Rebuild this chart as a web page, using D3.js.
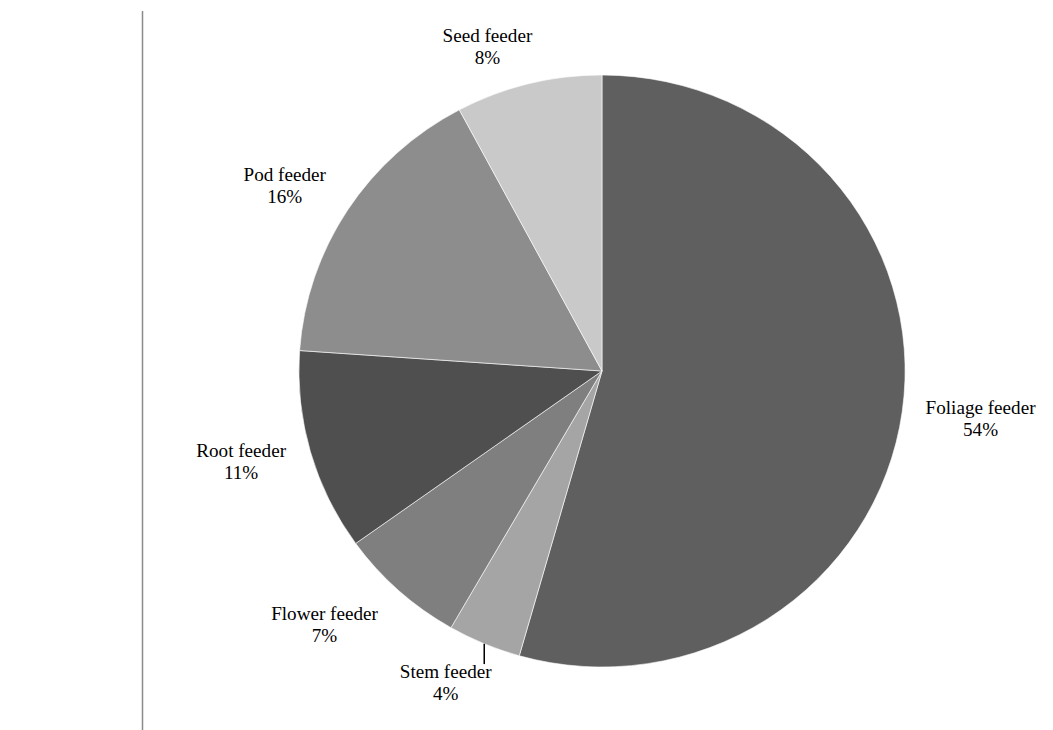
<!DOCTYPE html>
<html>
<head>
<meta charset="utf-8">
<script src="https://cdn.jsdelivr.net/npm/d3@7"></script>
<style>
	html, body { margin: 0; padding: 0; background: #fff; }
	svg { display: block; }
	.label { font-family: "Liberation Serif", "Times New Roman", serif; font-size: 18.7px; fill: #000; }
</style>
</head>
<body>
<svg id="chart" width="1053" height="730"></svg>
<script>
// feeding guild shares (%), clockwise from 12 o'clock
var categories = ['Foliage feeder', 'Stem feeder', 'Flower feeder', 'Root feeder', 'Pod feeder', 'Seed feeder'];
var shares = [54.4, 3.9, 6.8, 11.0, 16.1, 7.8];

var sliceColors = ['#5f5f5f', '#a5a5a5', '#7f7f7f', '#4f4f4f', '#8d8d8d', '#c9c9c9'];
// hand placement of the data labels, like they were dragged in the original
var labelNudge = [[3, -2], [-16, -11], [-26, -15], [-4, -6], [-8, 12], [-28, 13]];
var leaderFor = ['Stem feeder'];

var width = 1053,
	height = 730,
	cx = 602,
	cy = 371,
	radius = 296,
	stretchX = 1.024,
	pad = 18,
	lineH = 22;

var svg = d3.select('#chart');

// thin rule on the left of the page
svg.append('line')
	.attr('x1', 142.5).attr('x2', 142.5)
	.attr('y1', 11).attr('y2', height)
	.style('stroke', '#8a8a8a')
	.style('stroke-width', 1.5);

var pie = d3.pie()
	.sort(null)
	.value(function (d) { return d; });

var arc = d3.arc()
	.innerRadius(0)
	.outerRadius(radius);

var arcs = pie(shares);

var g = svg.append('g')
	.attr('transform', 'translate(' + [cx, cy] + ') scale(' + stretchX + ',1)');

g.selectAll('path.slice')
	.data(arcs)
	.enter().append('path')
		.classed('slice', true)
		.attr('d', arc)
		.style('fill', function (d, i) { return sliceColors[i]; })
		.style('stroke', '#ffffff')
		.style('stroke-width', 0.6);

var labels = g.selectAll('g.lbl')
	.data(arcs)
	.enter().append('g')
		.classed('lbl', true);

labels.each(function (d, i) {
	var lbl = d3.select(this),
		name = categories[i],
		mid = (d.startAngle + d.endAngle) / 2,
		s = Math.sin(mid),
		c = Math.cos(mid),
		t1, t2, w, dist, x, y;

	t1 = lbl.append('text')
		.classed('label', true)
		.attr('text-anchor', 'middle')
		.text(name);
	t2 = lbl.append('text')
		.classed('label', true)
		.attr('text-anchor', 'middle')
		.text(Math.round(d.data) + '%');

	w = Math.max(t1.node().getComputedTextLength(), t2.node().getComputedTextLength());
	dist = radius + pad + Math.abs(s) * w / 2 + Math.abs(c) * lineH;

	x = dist * s + labelNudge[i][0];
	y = -dist * c + labelNudge[i][1];

	t1.attr('x', x).attr('y', y - 6.5);
	t2.attr('x', x).attr('y', y - 6.5 + lineH);

	if (leaderFor.indexOf(name) > -1) {
		var ex = radius * s,
			ey = -radius * c;
		lbl.append('line')
			.attr('x1', ex).attr('x2', ex)
			.attr('y1', ey).attr('y2', y - lineH + 2)
			.style('stroke', '#000')
			.style('stroke-width', 1.5);
	}
});
</script>
</body>
</html>
